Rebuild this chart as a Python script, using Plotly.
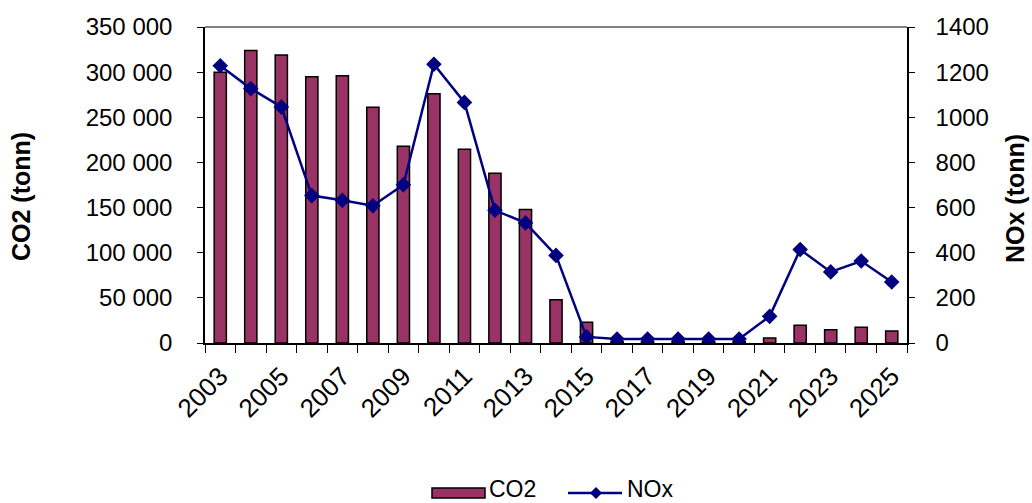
import plotly.graph_objects as go

years = list(range(2003, 2026))
co2 = [300000, 324000, 319000, 295000, 296000, 261000, 218000, 276000, 214500,
       188000, 148000, 48000, 23000, 1500, 1500, 1500, 1500, 1500, 5500, 19600,
       14800, 17400, 13300]
nox = [1228, 1127, 1046, 653, 632, 608, 701, 1235, 1066, 588, 532, 388, 27, 18,
       18, 18, 18, 18, 118, 414, 315, 363, 270]
label_years = list(range(2003, 2026, 2))

BAR_COLOR = "#993366"
LINE_COLOR = "#000080"
FONT = "Liberation Sans, Arial, sans-serif"

W, H = 1032, 503
L, R, T, B = 205, 125, 27, 160
PW, PH = W - L - R, H - T - B


def px_x(x):
    return (x - L) / PW


def px_y(y):
    return (H - B - y) / PH


fig = go.Figure()
fig.add_trace(go.Bar(
    x=years, y=co2, name="CO2", width=0.4,
    marker=dict(color=BAR_COLOR, line=dict(color="black", width=1.5)),
    showlegend=False,
))
fig.add_trace(go.Scatter(
    x=years, y=nox, name="NOx", yaxis="y2", mode="lines+markers",
    line=dict(color=LINE_COLOR, width=2.5),
    marker=dict(symbol="diamond", size=12, color=LINE_COLOR),
    showlegend=False,
))

shapes = [
    # gray plot-area frame along the top
    dict(type="line", xref="paper", yref="paper", x0=0, x1=1, y0=1, y1=1,
         line=dict(color="#808080", width=2)),
    # legend: CO2 swatch
    dict(type="rect", xref="paper", yref="paper",
         x0=px_x(432), x1=px_x(485), y0=px_y(498), y1=px_y(488),
         fillcolor=BAR_COLOR, line=dict(color="black", width=1.5)),
    # legend: NOx line with diamond
    dict(type="line", xref="paper", yref="paper",
         x0=px_x(568), x1=px_x(622), y0=px_y(493), y1=px_y(493),
         line=dict(color=LINE_COLOR, width=2.5)),
]
cx, cy, hw = 596, 493, 6
shapes.append(dict(
    type="path", xref="paper", yref="paper",
    path=(f"M {px_x(cx)},{px_y(cy - hw)} L {px_x(cx + hw)},{px_y(cy)} "
          f"L {px_x(cx)},{px_y(cy + hw)} L {px_x(cx - hw)},{px_y(cy)} Z"),
    fillcolor=LINE_COLOR, line=dict(color=LINE_COLOR, width=0),
))

annotations = [
    dict(text="<b>CO2 (tonn)</b>", xref="paper", yref="paper", x=px_x(21), y=px_y(197),
         textangle=-90, showarrow=False, font=dict(size=25, family=FONT, color="black"),
         xanchor="center", yanchor="middle"),
    dict(text="<b>NOx (tonn)</b>", xref="paper", yref="paper", x=px_x(1015), y=px_y(198),
         textangle=-90, showarrow=False, font=dict(size=25, family=FONT, color="black"),
         xanchor="center", yanchor="middle"),
    dict(text="CO2", xref="paper", yref="paper", x=px_x(488), y=px_y(489),
         showarrow=False, font=dict(size=23, family=FONT, color="black"),
         xanchor="left", yanchor="middle", borderpad=0),
    dict(text="NOx", xref="paper", yref="paper", x=px_x(626), y=px_y(489),
         showarrow=False, font=dict(size=23, family=FONT, color="black"),
         xanchor="left", yanchor="middle", borderpad=0),
]

fig.update_layout(
    width=W, height=H,
    margin=dict(l=L, r=R, t=T, b=B, autoexpand=False),
    paper_bgcolor="white", plot_bgcolor="white",
    separators=", ",
    font=dict(family=FONT, size=24, color="black"),
    xaxis=dict(
        range=[2002.5, 2025.5], tickmode="array", tickvals=label_years,
        ticktext=[str(y) for y in label_years], tickangle=-45, ticks="",
        showline=True, linecolor="black", linewidth=1.5, showgrid=False,
        zeroline=False, ticklabelstandoff=6,
        minor=dict(tickmode="linear", tick0=2002.5, dtick=1, ticks="outside",
                   ticklen=8, tickcolor="black", tickwidth=1, showgrid=False),
        tickfont=dict(size=26),
    ),
    yaxis=dict(
        range=[0, 350000], dtick=50000, tickformat=",d", ticks="outside",
        ticklen=6, tickcolor="black", showline=True, linecolor="black",
        linewidth=1.5, showgrid=False, zeroline=False, ticklabelstandoff=20,
        tickfont=dict(size=24),
    ),
    yaxis2=dict(
        range=[0, 1400], dtick=200, tickformat="d", overlaying="y", side="right",
        ticks="outside", ticklen=6, tickcolor="black", showline=True,
        linecolor="black", linewidth=1.5, showgrid=False, zeroline=False,
        ticklabelstandoff=16, tickfont=dict(size=24),
    ),
    shapes=shapes,
    annotations=annotations,
)

fig.write_html("out.html")
